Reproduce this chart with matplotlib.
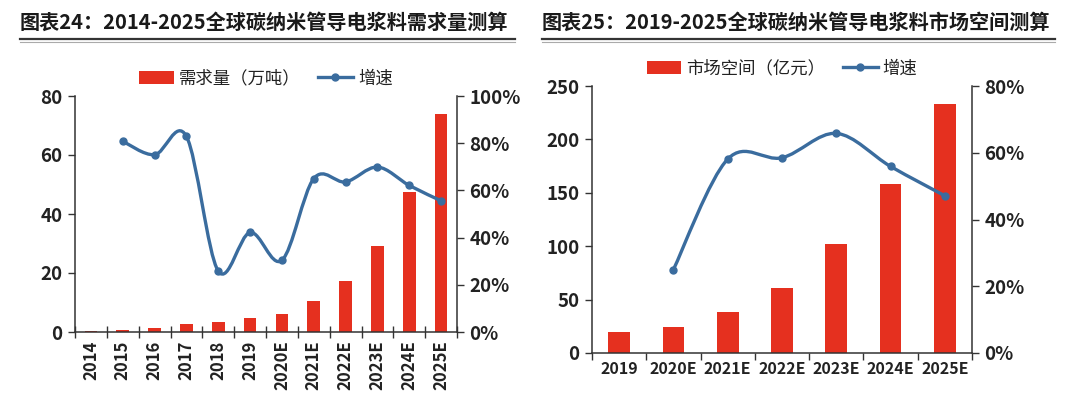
import matplotlib
matplotlib.use("Agg")
import matplotlib.pyplot as plt
import numpy as np
from matplotlib.path import Path
from matplotlib.patches import PathPatch, Patch
from matplotlib.lines import Line2D
from matplotlib.ticker import FuncFormatter, FixedLocator

plt.rcParams['font.family'] = ['Noto Sans CJK SC', 'DejaVu Sans']

# ---- data ----
years_l = ['2014', '2015', '2016', '2017', '2018', '2019', '2020E', '2021E',
           '2022E', '2023E', '2024E', '2025E']
demand = [0.2, 0.8, 1.5, 2.7, 3.3, 4.9, 6.2, 10.5, 17.2, 29.3, 47.5, 74.0]
growth_l = [None, 80.8, 75.1, 82.9, 25.8, 42.2, 30.4, 65.0, 63.6, 69.9, 62.1, 55.6]

years_r = ['2019', '2020E', '2021E', '2022E', '2023E', '2024E', '2025E']
market = [19.7, 24.4, 38.4, 60.9, 101.6, 158.4, 233.4]
growth_r = [None, 25.0, 58.1, 58.5, 65.8, 55.9, 47.1]

title_l = '图表24：2014-2025全球碳纳米管导电浆料需求量测算'
title_r = '图表25：2019-2025全球碳纳米管导电浆料市场空间测算'
legend_bar_l = '需求量（万吨）'
legend_bar_r = '市场空间（亿元）'
legend_line = '增速'

RED = '#E5301F'
BLUE = '#3A6C9E'
AX = '#333333'

fig = plt.figure(figsize=(10.8, 3.99), dpi=100)


def smooth_path(xs, ys):
    pts = np.column_stack([xs, ys]).astype(float)
    n = len(pts)
    verts = [pts[0]]
    codes = [Path.MOVETO]
    for i in range(n - 1):
        p0 = pts[i - 1] if i > 0 else pts[i]
        p1 = pts[i]
        p2 = pts[i + 1]
        p3 = pts[i + 2] if i + 2 < n else pts[i + 1]
        c1 = p1 + (p2 - p0) / 6.0
        c2 = p2 - (p3 - p1) / 6.0
        verts += [c1, c2, p2]
        codes += [Path.CURVE4] * 3
    return Path(verts, codes)


def make_panel(rect, cats, bars, growth, ymax, ystep, y2max, y2step,
               rot, legend_label, xtick_dir, xfs):
    ax = fig.add_axes(rect)
    x = np.arange(len(cats))
    ax.bar(x, bars, width=0.4, color=RED, zorder=2)
    ax.set_xlim(-0.5, len(cats) - 0.5)
    ax.set_ylim(0, ymax)
    ax.set_yticks(np.arange(0, ymax + 0.1, ystep))
    ax.xaxis.set_major_locator(FixedLocator(x))
    ax.set_xticklabels(cats, rotation=rot, fontsize=xfs, fontweight='bold',
                       color='#222222')
    ax.xaxis.set_minor_locator(FixedLocator(np.arange(-0.5, len(cats), 1.0)))
    ax.tick_params(axis='x', which='major', length=0, pad=6)
    ax.tick_params(axis='x', which='minor', length=5 if xtick_dir == 'out' else 8,
                   direction=xtick_dir, color=AX, width=1)
    ax.tick_params(axis='y', direction='out', length=5, color=AX, width=1,
                   labelsize=13.5, pad=4)
    for lab in ax.get_yticklabels():
        lab.set_fontweight('bold')
        lab.set_color('#222222')
    for s in ['top', 'right']:
        ax.spines[s].set_visible(False)
    for s in ['left', 'bottom']:
        ax.spines[s].set_color(AX)
        ax.spines[s].set_linewidth(1.1)

    ax2 = ax.twinx()
    ax2.set_ylim(0, y2max)
    ax2.set_yticks(np.arange(0, y2max + 0.1, y2step))
    ax2.yaxis.set_major_formatter(FuncFormatter(lambda v, p: f'{v:.0f}%'))
    ax2.tick_params(axis='y', direction='out', length=5, color=AX, width=1,
                    labelsize=13.5, pad=4)
    for lab in ax2.get_yticklabels():
        lab.set_fontweight('bold')
        lab.set_color('#222222')
    for s in ['top', 'left', 'bottom']:
        ax2.spines[s].set_visible(False)
    ax2.spines['right'].set_color(AX)
    ax2.spines['right'].set_linewidth(1.1)

    gx = [xi for xi, g in zip(x, growth) if g is not None]
    gy = [g for g in growth if g is not None]
    path = smooth_path(gx, gy)
    ax2.add_patch(PathPatch(path, facecolor='none', edgecolor=BLUE, lw=2.4,
                            transform=ax2.transData, zorder=3,
                            capstyle='round', joinstyle='round'))
    ax2.plot(gx, gy, linestyle='none', marker='o', markersize=5,
             color=BLUE, zorder=4)

    handles = [Patch(facecolor=RED, edgecolor='none'),
               Line2D([], [], color=BLUE, lw=2.4, marker='o', markersize=5)]
    leg = ax.legend(handles, [legend_label, legend_line], loc='lower center',
                    bbox_to_anchor=(0.5, 1.0), ncol=2, frameon=False,
                    fontsize=12.5, handlelength=2.0, handleheight=0.8,
                    handletextpad=0.3, columnspacing=1.0, borderaxespad=0.1)
    for t in leg.get_texts():
        t.set_color('#222222')
    return ax, ax2


make_panel([75 / 1080, 67 / 399, 382 / 1080, 236 / 399], years_l, demand,
           growth_l, 80, 20, 100, 20, 90, legend_bar_l, 'inout', 12)
make_panel([592 / 1080, 46 / 399, 380 / 1080, 267 / 399], years_r, market,
           growth_r, 250, 50, 80, 20, 0, legend_bar_r, 'out', 11.5)

# titles
fig.text(20 / 1080, 1 - 22 / 399, title_l, fontsize=14.5, fontweight='bold',
         va='center', ha='left', color='#1a1a1a')
fig.text(542 / 1080, 1 - 22 / 399, title_r, fontsize=14.5, fontweight='bold',
         va='center', ha='left', color='#1a1a1a')
for x0, x1 in [(20, 515), (542, 1055)]:
    fig.add_artist(Line2D([x0 / 1080, x1 / 1080], [1 - 39 / 399] * 2,
                          color='#333333', lw=1.6, transform=fig.transFigure))
    fig.add_artist(Line2D([x0 / 1080, x1 / 1080], [1 - 41.5 / 399] * 2,
                          color='#aaaaaa', lw=0.8, transform=fig.transFigure))

fig.savefig('out.png', dpi=100, facecolor='white')
